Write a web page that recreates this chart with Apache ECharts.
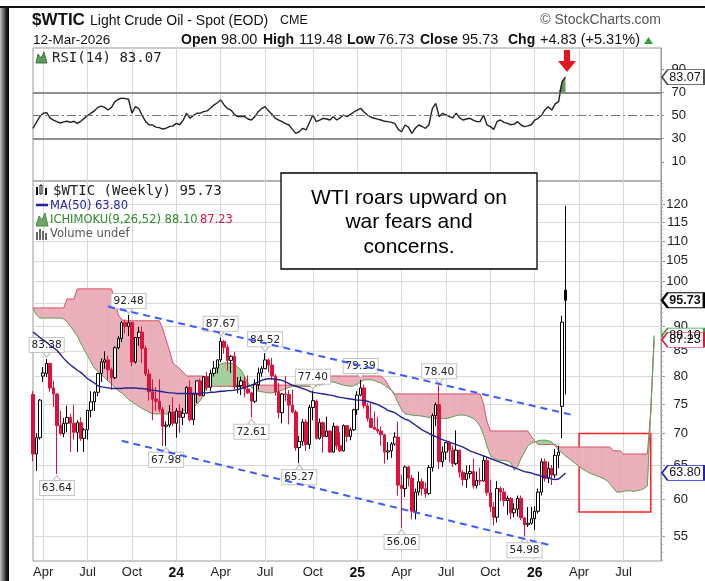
<!DOCTYPE html>
<html><head><meta charset="utf-8">
<script src="https://cdn.jsdelivr.net/npm/echarts@6/dist/echarts.min.js"></script>
<style>
html,body{margin:0;padding:0;background:#fff;}
#wrap{position:relative;width:705px;height:581px;overflow:hidden;background:#fff;}
#chart{position:absolute;left:0;top:0;width:705px;height:581px;}
#lframe{position:absolute;left:0;top:7px;width:9px;height:574px;background:linear-gradient(to right,#c4c4c4 0%,#777 35%,#222 70%,#000 100%);}
#tframe{position:absolute;left:0;top:6px;width:705px;height:2px;background:#111;}
</style></head>
<body><div id="wrap"><div id="chart"></div><div id="lframe"></div><div id="tframe"></div></div>
<script>
// ---------------- DATA ----------------
const startDate = '2023-03-13';          // first weekly category (Monday)
const nCategories = 185;                 // weeks shown incl. future cloud
const monthNames = ['Jan','Feb','Mar','Apr','May','Jun','Jul','Aug','Sep','Oct','Nov','Dec'];

const opens = [
76.7,66.7,69.3,80.1,80.6,82.5,77.9,76.8,71.3,70.0,
71.7,72.7,71.7,70.2,71.8,69.2,70.6,73.9,75.4,77.1,
80.6,82.8,83.2,81.3,79.8,85.6,87.5,90.8,90.0,90.8,
82.8,87.7,88.8,85.5,80.5,77.2,75.9,75.5,74.1,71.2,
71.4,73.6,71.7,73.8,72.7,73.4,78.0,72.3,76.8,79.2,
76.5,80.0,78.0,80.6,81.6,83.2,86.9,85.7,83.1,83.9,
78.1,78.3,79.2,77.7,77.0,75.5,78.5,80.7,81.5,83.2,
82.2,80.1,77.2,73.5,76.8,76.7,74.8,73.6,67.7,68.7,
71.9,68.2,74.4,75.5,69.2,71.8,69.5,70.4,67.0,71.2,
68.0,67.2,71.3,69.5,70.6,74.0,76.6,77.9,74.7,72.5,
71.0,70.7,70.4,69.8,67.0,67.2,68.3,69.4,62.0,61.5,
64.7,63.0,58.3,61.0,62.5,61.5,60.8,64.6,73.0,74.9,
65.5,67.0,68.5,67.3,65.2,67.3,63.9,62.8,63.7,64.0,
61.9,62.7,62.6,65.7,60.9,58.9,57.5,61.5,61.0,59.8,
60.1,58.1,58.6,60.1,57.4,56.5,56.7,57.3,58.3,61.0,
65.5,63.0,64.5,63.5,66.5,74.6,98.00];
const highs = [
77.3,70.0,75.9,81.8,83.38,82.7,79.2,76.9,73.8,72.6,
74.7,73.3,74.9,72.2,72.7,70.9,74.0,77.3,77.3,80.7,
83.5,84.9,84.0,81.7,85.9,88.0,91.2,91.5,92.48,91.0,
87.8,89.9,90.0,86.0,81.4,79.5,78.0,79.5,74.5,72.0,
74.8,76.2,74.3,75.0,74.3,78.2,79.3,77.0,79.3,79.6,
80.1,80.9,81.3,83.0,83.3,87.67,87.2,86.3,84.2,84.8,
79.9,80.0,80.0,80.2,77.2,79.5,81.7,82.0,84.52,83.5,
83.6,80.5,78.8,77.0,80.1,77.5,77.6,74.0,69.6,72.4,
72.4,74.9,77.40,75.8,72.5,72.0,72.8,70.5,71.8,71.3,
70.2,71.5,71.4,71.0,74.2,77.3,79.39,78.5,75.2,75.2,
73.7,72.8,71.2,69.9,68.6,68.6,70.2,72.0,63.5,64.9,
64.9,63.5,61.5,64.0,63.0,62.4,65.0,73.4,75.3,78.40,
67.9,68.6,68.7,68.0,70.5,67.4,64.2,64.9,65.0,66.0,
64.0,64.6,66.4,66.3,62.8,59.6,62.6,61.8,61.6,60.5,
60.3,59.4,60.5,60.5,57.5,58.9,58.9,59.0,61.5,66.0,
66.0,65.5,65.0,67.5,68.0,92.3,119.48];
const lows = [
65.6,64.1,69.0,79.0,79.9,77.2,74.5,63.64,69.7,69.4,
70.2,67.0,69.0,67.0,68.8,67.0,69.0,72.7,73.8,76.4,
79.0,81.5,79.3,77.6,79.5,85.3,86.8,88.6,88.0,82.0,
82.5,86.0,82.6,80.1,75.6,72.2,73.8,73.6,68.0,67.98,
71.0,71.2,69.3,70.1,71.4,73.3,72.0,71.4,75.2,76.4,
76.4,77.4,77.3,80.0,80.6,82.8,84.4,81.1,80.7,77.6,
76.9,76.6,76.2,76.8,72.61,75.2,77.6,80.0,81.4,80.8,
79.4,76.5,72.5,71.7,75.5,71.5,73.4,67.2,65.27,68.0,
67.2,67.5,72.2,69.0,69.0,66.9,69.4,66.9,66.9,67.4,
67.0,67.1,68.6,68.9,70.4,73.1,76.4,74.2,72.0,70.9,
70.6,70.0,68.0,65.2,65.8,66.1,68.0,60.5,56.06,60.3,
61.8,57.2,57.2,60.5,60.5,60.2,60.6,64.0,71.2,64.4,
64.7,65.8,65.4,64.7,65.0,63.1,61.9,61.6,63.0,61.5,
61.5,62.0,62.5,60.5,58.2,56.4,56.8,59.7,59.0,57.8,
57.2,57.5,57.6,57.1,54.98,56.2,56.5,55.8,58.0,60.5,
62.5,62.3,62.0,63.0,64.5,69.2,76.73];
const closes = [
66.7,69.3,75.7,80.7,82.5,77.9,76.8,71.3,70.0,71.7,
72.7,71.7,70.2,71.8,69.2,70.6,73.9,75.4,77.1,80.6,
82.8,83.2,81.3,79.8,85.6,87.5,90.8,90.0,90.8,82.8,
87.7,88.8,85.5,80.5,77.2,75.9,75.5,74.1,71.2,71.4,
73.6,71.7,73.8,72.7,73.4,78.0,72.3,76.8,79.2,76.5,
80.0,78.0,80.6,81.6,83.2,86.9,85.7,83.1,83.9,78.1,
78.3,79.2,77.7,77.0,75.5,78.5,80.7,81.5,83.2,82.2,
80.1,77.2,73.5,76.8,76.7,74.8,73.6,67.7,68.7,71.9,
68.2,74.4,75.6,69.2,71.8,69.5,70.4,67.0,71.2,68.0,
67.2,71.3,69.5,70.6,74.0,76.6,77.9,74.7,72.5,71.0,
70.7,70.4,69.8,67.0,67.2,68.3,69.4,62.0,61.5,64.7,
63.0,58.3,61.0,62.5,61.5,60.8,64.6,73.0,74.9,65.5,
67.0,68.5,67.3,65.2,67.3,63.9,62.8,63.7,64.0,61.9,
62.7,62.6,65.7,60.9,58.9,57.5,61.5,61.0,59.8,60.1,
58.1,58.6,60.1,57.4,56.5,56.7,57.3,58.3,61.0,65.5,
63.0,64.5,63.5,66.5,67.0,90.9,95.73];

const ma50 = [
88.8,88.3,87.7,87.2,86.7,86.1,85.6,85.1,84.3,83.5,
82.8,82.2,81.7,81.2,80.8,80.2,79.6,79.2,78.8,78.3,
78.1,78.0,77.9,77.8,77.8,77.8,77.8,77.9,77.9,77.9,
77.9,77.8,77.8,77.7,77.6,77.5,77.4,77.3,77.2,77.1,
77.0,77.0,76.9,76.9,76.9,76.9,76.9,76.9,76.9,76.9,
77.0,77.0,77.1,77.1,77.2,77.3,77.3,77.4,77.4,77.5,
77.6,77.8,78.0,78.2,78.4,78.7,79.0,79.3,79.5,79.6,
79.6,79.5,79.4,79.3,79.0,78.7,78.4,78.2,78.0,77.8,
77.6,77.3,77.1,77.0,76.9,76.8,76.7,76.6,76.5,76.3,
76.2,76.1,76.0,75.9,75.8,75.7,75.7,75.6,75.5,75.3,
75.1,74.9,74.6,74.3,73.9,73.7,73.5,73.1,72.7,72.4,
72.2,71.8,71.4,71.0,70.6,70.3,70.0,69.7,69.5,69.2,
69.0,68.8,68.6,68.4,68.2,68.0,67.8,67.5,67.2,67.0,
66.8,66.6,66.4,66.2,66.0,65.8,65.6,65.4,65.2,65.0,
64.8,64.6,64.4,64.2,64.0,63.9,63.8,63.6,63.5,63.3,
63.2,63.1,62.9,62.8,62.9,63.3,63.80];

const spanA = [
94.0,92.5,91.8,91.8,91.8,91.8,91.8,91.8,91.8,91.6,
91.0,90.0,89.0,88.0,86.5,85.2,84.0,82.8,81.6,81.0,
80.4,79.8,79.2,78.6,78.0,77.4,77.0,76.4,75.8,75.4,
75.0,74.6,74.2,73.9,73.6,73.3,73.3,73.3,73.3,73.3,
73.3,73.3,73.3,73.5,73.8,74.0,74.2,74.4,75.0,75.6,
76.8,78.5,80.2,81.2,82.0,82.4,82.6,82.6,82.6,82.3,
81.8,81.2,80.0,78.8,78.0,77.6,77.3,77.2,77.1,77.0,
77.0,77.1,77.3,77.5,77.8,78.0,78.2,78.2,78.3,78.5,
78.7,78.8,78.8,78.6,78.4,78.6,78.8,79.0,79.0,78.8,
78.6,78.4,78.3,78.2,78.3,78.6,79.0,79.4,79.4,79.4,
79.3,79.0,78.8,78.4,77.9,77.5,76.5,75.2,74.0,73.3,
73.2,73.1,73.0,73.0,72.9,72.8,72.7,72.6,72.5,72.5,
72.5,72.5,72.6,72.8,73.0,73.1,73.1,73.0,72.8,72.5,
72.0,71.2,69.8,68.0,66.5,66.0,65.8,65.7,65.7,65.6,
65.4,64.2,64.8,66.0,67.0,68.0,68.4,68.6,68.8,68.9,
68.9,68.8,68.6,68.0,67.3,66.9,66.4,66.0,65.6,65.2,
64.8,64.4,64.1,63.8,63.6,63.4,63.2,63.0,62.7,62.2,
61.6,61.0,61.0,61.1,61.2,61.2,61.1,61.2,61.3,61.5,
61.9,73.8,88.10];
const spanB = [
94.0,94.0,94.0,94.0,94.0,94.0,94.0,94.0,94.0,94.0,
96.0,96.0,96.0,98.3,98.3,98.3,98.3,98.3,98.3,98.3,
98.3,98.3,98.3,98.3,95.5,92.5,91.4,91.2,91.2,91.2,
91.2,91.2,91.2,91.2,91.2,91.2,91.2,91.2,89.5,87.2,
85.0,82.6,82.0,81.5,80.8,80.1,80.1,80.1,80.1,80.1,
80.1,78.2,78.2,78.2,78.2,78.2,78.2,78.2,78.2,78.2,
78.2,78.2,78.2,78.2,78.4,78.4,78.4,78.4,78.4,78.4,
78.4,78.4,78.4,78.4,78.4,78.4,78.4,78.4,78.2,78.2,
78.2,78.2,78.2,78.2,80.1,80.1,80.1,80.1,80.1,80.1,
80.1,80.1,80.1,80.1,80.1,80.1,80.1,80.1,80.1,80.1,
80.1,80.1,80.1,79.5,78.5,77.5,76.8,76.8,76.8,76.8,
76.8,76.8,76.8,76.8,76.8,76.8,76.8,76.8,76.8,76.8,
76.8,76.8,76.8,76.8,76.8,76.8,76.8,76.8,76.8,76.8,
76.8,76.8,75.0,72.0,70.4,70.4,70.4,70.4,70.4,70.4,
70.4,70.4,70.4,70.4,70.4,70.4,69.5,68.8,68.2,68.2,
68.2,68.2,68.2,68.2,67.8,67.8,67.8,67.8,67.8,67.8,
67.8,67.8,67.8,67.8,67.8,67.8,67.8,67.8,67.8,67.8,
67.2,67.2,67.2,66.7,66.7,66.7,66.7,66.7,66.7,66.7,
66.7,73.6,87.23];

const rsi14 = [
38.9,44,49,51.9,52.5,48,46,44.7,43.5,44.5,
45,44,45,43.2,45,47.5,50,52,54,57,
58,57,54.7,57,62,64,65,64.5,64,51.9,
57.6,56,50,44.7,42,41.8,40,39.5,38.3,39,
40.4,41,43.2,42,46,51.9,47.6,50,51.9,52,
53.3,54,56.2,59,61,63.4,59.1,56,54.7,51,
49,49,49,47,46.1,49,53.3,56,57.6,54,
51,47.6,46,44.7,43,41.8,38,34.6,36,38.9,
37.5,44,50.4,44.7,46,47.6,47,46.1,49,46.1,
48,50.4,49,51,53,54.7,56.2,53,50.4,48.5,
47.6,46.8,46.1,45,44.7,44,43.2,38,36,41.8,
40,34.6,38.9,41.8,40.5,38.9,41.8,56,60.5,49,
51.9,50.5,49,48,51.9,48,46.1,47,47.6,46,
44.7,44.7,50.4,42,40.4,38,45,46.1,44,43.2,
42,42.5,44.7,41.8,40.4,41,42,46.1,47.6,50,
55,57.6,54.7,60,61.9,79.2,83.07];

const priceTicks = [55,60,65,70,75,80,85,90,95,100,105,110,115,120];
const rsiTicks = [10,30,50,70,90];
const priceRange = [51.88, 126.65];
const rsiRange = [-6.5, 108.2];
const rsiLevels = [30, 50, 70];

const peakIdx = [4,28,55,68,82,96,119];
const troughIdx = [7,39,64,78,108,144];
const upperTrend = {idx:[22,158], val:[94.3,73.1]};
const lowerTrend = {idx:[26,151], val:[68.8,53.9]};
const boxIdx = [160,181];
const boxVal = [70.0,58.2];
const noteLines = ['WTI roars upward on','war fears and','concerns.'];
const dateText = '12-Mar-2026';

// ---------------- BUILD ----------------
const L = Math.log;
const categories = [];
const t0 = Date.parse(startDate + 'T00:00:00Z');
for (let i = 0; i < nCategories; i++) categories.push(new Date(t0 + i*7*86400000).toISOString().slice(0,10));
function isQuarter(i){ const d=categories[i]; const m=+d.slice(5,7), day=+d.slice(8,10); return (m===1||m===4||m===7||m===10) && day<=7; }

const RED = '#e0103c', BLK = '#000';
const candleData = closes.map((c,i)=>{
  const o = opens[i]; const prev = i>0 ? closes[i-1] : o;
  const col = c >= prev ? BLK : RED;
  const fill = c > o ? '#fff' : col;
  return {value:[L(o),L(c),L(lows[i]),L(highs[i])], itemStyle:{color:fill,color0:fill,borderColor:col,borderColor0:col,borderWidth:1}};
});

const lblStyle = {show:true, formatter:p=>p.value, fontSize:10.5, fontFamily:'DejaVu Sans', color:'#222', backgroundColor:'#fff', borderColor:'#c4c4c4', borderWidth:1, padding:[2,2,1,2]};
const peakPts = peakIdx.map(i=>({coord:[i, L(highs[i])], value:highs[i].toFixed(2), symbol:'path://M0,0L10,0L5,6Z', symbolSize:[8,5], symbolOffset:[0,-4], itemStyle:{color:'#fff',borderColor:'#bbb',borderWidth:1}, label:Object.assign({}, lblStyle, {position:'top', distance:0})}));
const troughPts = troughIdx.map(i=>({coord:[i, L(lows[i])], value:lows[i].toFixed(2), symbol:'path://M0,6L10,6L5,0Z', symbolSize:[8,5], symbolOffset:[0,4], itemStyle:{color:'#fff',borderColor:'#bbb',borderWidth:1}, label:Object.assign({}, lblStyle, {position:'bottom', distance:0})}));

const lastI = nCategories - 1;
function tag(y, text, border, bold, textColor){
  return {coord:[lastI, y], value:text, symbol:'path://M0,6L6,0L44,0L44,12L6,12Z', symbolSize:[42,15], symbolOffset:[22,0],
    itemStyle:{color:'#fff', borderColor:border, borderWidth: bold?1.7:1.2},
    label:{show:true, position:'inside', formatter:text, offset:[2,0], fontSize:12.5, fontFamily:'Liberation Sans', fontWeight: bold?'bold':'normal', color:textColor||'#111'}};
}
const nLast = closes.length - 1;
const mainTags = [
  tag(L(closes[nLast]), closes[nLast].toFixed(2), '#000', true),
  tag(L(spanA[spanA.length-1]), spanA[spanA.length-1].toFixed(2), '#3c9a3c', false),
  tag(L(spanB[spanB.length-1]), spanB[spanB.length-1].toFixed(2), '#dc143c', false),
  tag(L(ma50[ma50.length-1]), ma50[ma50.length-1].toFixed(2), '#2020c0', false, '#111')
];

const cloudData = [];
for (let i=0;i<spanA.length-1;i++) cloudData.push([i, L(spanA[i]), L(spanB[i]), L(spanA[i+1]), L(spanB[i+1])]);
const CR = '#eaafb8', CG = '#a2cf9b';
function renderCloud(params, api){
  const i=api.value(0), a0=api.value(1), b0=api.value(2), a1=api.value(3), b1=api.value(4);
  const pA0=api.coord([i,a0]), pB0=api.coord([i,b0]), pA1=api.coord([i+1,a1]), pB1=api.coord([i+1,b1]);
  const d0=a0-b0, d1=a1-b1;
  const mk=(pts,col)=>({type:'polygon', shape:{points:pts}, style:{fill:col, stroke:col, lineWidth:0.6}});
  const ch=[];
  if (d0*d1 >= 0) {
    if (d0===0 && d1===0) return {type:'group', children:[]};
    ch.push(mk([pA0,pA1,pB1,pB0], (d0+d1)>0?CG:CR));
  } else {
    const t=d0/(d0-d1);
    const pc=[pA0[0]+t*(pA1[0]-pA0[0]), pA0[1]+t*(pA1[1]-pA0[1])];
    ch.push(mk([pA0,pc,pB0], d0>0?CG:CR));
    ch.push(mk([pc,pA1,pB1], d1>0?CG:CR));
  }
  return {type:'group', children:ch};
}

const fillBase = rsi14.map((v,i)=> i>=150 ? 70 : '-');
const fillTop = rsi14.map((v,i)=> i>=150 ? Math.max(v-70,0) : '-');

const minorTicks = [];
for (let v=52; v<=126; v++) minorTicks.push(L(v));

const xCommon = {type:'category', data:categories, boundaryGap:false,
  axisLine:{show:false}, axisTick:{show:false},
  splitLine:{show:true, interval:(i)=>isQuarter(i), lineStyle:{color:'#d9d9d9', width:1}}};

function T(x,y,text,font,fill,align){ return {type:'text', x:x, y:y, z:100, silent:true, style:{text:text, font:font, fill:fill, align:align||'left', verticalAlign:'middle'}}; }

const chg = closes[nLast]-closes[nLast-1];
const pct = chg/closes[nLast-1]*100;
const B15 = 'bold 14px "Liberation Sans"', R15 = '14.5px "Liberation Sans"';
const graphics = [
  T(32,20,'$WTIC','bold 17px "Liberation Sans"','#111'),
  T(90,21,'Light Crude Oil - Spot (EOD)','14px "Liberation Sans"','#111'),
  T(280,21,'CME','12.5px "Liberation Sans"','#111'),
  T(661,20,'© StockCharts.com','14px "Liberation Sans"','#555','right'),
  T(33,40,dateText,'13.5px "Liberation Sans"','#111'),
  T(181,40,'Open',B15,'#111'), T(221,40,opens[nLast].toFixed(2),R15,'#111'),
  T(263,40,'High',B15,'#111'), T(299,40,highs[nLast].toFixed(2),R15,'#111'),
  T(347,40,'Low',B15,'#111'), T(378,40,lows[nLast].toFixed(2),R15,'#111'),
  T(420,40,'Close',B15,'#111'), T(462,40,closes[nLast].toFixed(2),R15,'#111'),
  T(508,40,'Chg',B15,'#111'), T(540,40,(chg>=0?'+':'')+chg.toFixed(2)+' ('+(pct>=0?'+':'')+pct.toFixed(2)+'%)',R15,'#111'),
  {type:'polygon', z:100, silent:true, shape:{points:[[644,44],[653,44],[648.5,37]]}, style:{fill:'#2e9e3e'}},
  // RSI legend
  {type:'polygon', z:100, silent:true, shape:{points:[[36,63],[38,54],[41,58],[44,52],[47,63]]}, style:{fill:'#5e9a58', stroke:'#2d5e2a', lineWidth:0.8}},
  T(52,58,'RSI(14) '+rsi14[nLast].toFixed(2),'14px "DejaVu Sans Mono"','#222'),
  // main legend
  {type:'rect', z:100, silent:true, shape:{x:36,y:187,width:2,height:8}, style:{fill:'#111'}},
  {type:'rect', z:100, silent:true, shape:{x:40,y:185,width:2,height:9}, style:{fill:'#fff', stroke:'#111', lineWidth:1}},
  {type:'rect', z:100, silent:true, shape:{x:45,y:188,width:2,height:7}, style:{fill:'#111'}},
  T(53,191,'$WTIC (Weekly) '+closes[nLast].toFixed(2),'14px "DejaVu Sans Mono"','#222'),
  {type:'line', z:100, silent:true, shape:{x1:36,y1:205,x2:48,y2:205}, style:{stroke:'#22229a', lineWidth:2.5}},
  T(50,206,'MA(50) '+ma50[nLast].toFixed(2),'11.5px "DejaVu Sans"','#2424a4'),
  {type:'polygon', z:100, silent:true, shape:{points:[[36,226],[39,216],[42,220],[45,213],[48,226]]}, style:{fill:'#6aa865', stroke:'#3c7a38', lineWidth:0.8}},
  T(50,220,'ICHIMOKU(9,26,52) '+spanA[spanA.length-1].toFixed(2),'11.5px "DejaVu Sans"','#2e8b2e'),
  T(200,220,spanB[spanB.length-1].toFixed(2),'11.5px "DejaVu Sans"','#dc143c'),
  {type:'rect', z:100, silent:true, shape:{x:36,y:232,width:2,height:8}, style:{fill:'#666'}},
  {type:'rect', z:100, silent:true, shape:{x:39,y:229,width:2,height:11}, style:{fill:'#666'}},
  {type:'rect', z:100, silent:true, shape:{x:42,y:231,width:2,height:9}, style:{fill:'#666'}},
  {type:'rect', z:100, silent:true, shape:{x:45,y:233,width:2,height:7}, style:{fill:'#666'}},
  T(50,234,'Volume undef','11.5px "DejaVu Sans"','#555'),
  // note box
  {type:'rect', z:100, silent:true, shape:{x:281,y:173,width:256,height:96}, style:{fill:'#fff', stroke:'#000', lineWidth:1.3}},
  T(409,198,noteLines[0],'21px "Liberation Sans"','#000','center'),
  T(409,222,noteLines[1],'21px "Liberation Sans"','#000','center'),
  T(409,247,noteLines[2],'21px "Liberation Sans"','#000','center'),
  // red arrow
  {type:'polygon', z:100, silent:true, shape:{points:[[564,50],[570,50],[570,61],[576,61],[567,72],[558,61],[564,61]]}, style:{fill:'#e8141c'}}
];

const option = {
  animation:false,
  backgroundColor:'#fff',
  grid:[
    {left:33, top:48, width:628, height:133, show:true, borderColor:'#999', borderWidth:1},
    {left:33, top:181, width:628, height:380, show:true, borderColor:'#999', borderWidth:1}
  ],
  xAxis:[
    Object.assign({gridIndex:0, axisLabel:{show:false}}, xCommon),
    Object.assign({gridIndex:1, axisLabel:{show:true, interval:(i)=>isQuarter(i), margin:5,
      fontSize:13, fontFamily:'Liberation Sans', color:'#222',
      formatter:(v)=>{ const m=+v.slice(5,7); return m===1 ? '{y|'+v.slice(2,4)+'}' : monthNames[m-1]; },
      rich:{y:{fontWeight:'bold', fontSize:14, fontFamily:'Liberation Sans', color:'#111'}}}}, xCommon)
  ],
  yAxis:[
    {gridIndex:0, type:'value', position:'right', min:rsiRange[0], max:rsiRange[1],
      axisLine:{show:true, lineStyle:{color:'#999'}},
      axisTick:{show:true, customValues:rsiTicks, length:3, lineStyle:{color:'#999'}},
      axisLabel:{customValues:rsiTicks, align:'right', margin:25, fontSize:13, fontFamily:'Liberation Sans', color:'#222'},
      splitLine:{show:false}},
    {gridIndex:1, type:'value', position:'right', min:L(priceRange[0]), max:L(priceRange[1]),
      axisLine:{show:true, lineStyle:{color:'#999'}},
      axisTick:{show:true, customValues:priceTicks.map(L), length:4, lineStyle:{color:'#999'}},
      axisLabel:{customValues:priceTicks.map(L), formatter:(v)=>String(Math.round(Math.exp(v))), align:'right', margin:27, fontSize:13, fontFamily:'Liberation Sans', color:'#222'},
      splitLine:{show:true, lineStyle:{color:'#d9d9d9'}}},
    {gridIndex:1, type:'value', position:'right', min:L(priceRange[0]), max:L(priceRange[1]),
      axisLine:{show:false}, axisLabel:{show:false}, splitLine:{show:false},
      axisTick:{show:true, customValues:minorTicks, length:2, lineStyle:{color:'#aaa'}}}
  ],
  series:[
    {name:'rsiBase', type:'line', xAxisIndex:0, yAxisIndex:0, data:fillBase, stack:'r', symbol:'none', lineStyle:{width:0, opacity:0}, silent:true, z:1},
    {name:'rsiFill', type:'line', xAxisIndex:0, yAxisIndex:0, data:fillTop, stack:'r', symbol:'none', lineStyle:{width:0, opacity:0}, areaStyle:{color:'#5f9a58', opacity:1}, silent:true, z:2},
    {name:'RSI', type:'line', xAxisIndex:0, yAxisIndex:0, data:rsi14, symbol:'none', lineStyle:{color:'#222', width:1.4}, z:3, silent:true,
      markLine:{silent:true, symbol:'none', label:{show:false},
        data:[{yAxis:rsiLevels[2], lineStyle:{color:'#6a6a6a', width:1.7, type:'solid'}},
              {yAxis:rsiLevels[0], lineStyle:{color:'#6a6a6a', width:1.7, type:'solid'}},
              {yAxis:rsiLevels[1], lineStyle:{color:'#777', width:1.2, type:[9,3,2,3]}}]},
      markPoint:{silent:true, data:[{coord:[lastI, rsi14[nLast]], value:rsi14[nLast].toFixed(2), symbol:'path://M0,6L6,0L44,0L44,12L6,12Z', symbolSize:[42,15], symbolOffset:[22,0],
        itemStyle:{color:'#fff', borderColor:'#444', borderWidth:1.1},
        label:{show:true, position:'inside', formatter:rsi14[nLast].toFixed(2), offset:[2,0], fontSize:12.5, fontFamily:'Liberation Sans', color:'#111'}}]}},
    {name:'cloud', type:'custom', xAxisIndex:1, yAxisIndex:1, renderItem:renderCloud, data:cloudData, encode:{x:0, y:1}, z:1, silent:true, clip:true},
    {name:'spanB', type:'line', xAxisIndex:1, yAxisIndex:1, data:spanB.map(L), symbol:'none', lineStyle:{color:'#d9566a', width:1}, z:2, silent:true},
    {name:'spanA', type:'line', xAxisIndex:1, yAxisIndex:1, data:spanA.map(L), symbol:'none', lineStyle:{color:'#5fa257', width:1}, z:2, silent:true},
    {name:'WTIC', type:'candlestick', xAxisIndex:1, yAxisIndex:1, data:candleData, barWidth:3, z:4, silent:true,
      markPoint:{silent:true, data:peakPts.concat(troughPts).concat(mainTags)}},
    {name:'MA50', type:'line', xAxisIndex:1, yAxisIndex:1, data:ma50.map(L), symbol:'none', lineStyle:{color:'#23238f', width:1.4}, z:5, silent:true},
    {name:'upper', type:'line', xAxisIndex:1, yAxisIndex:1, data:[[upperTrend.idx[0], L(upperTrend.val[0])],[upperTrend.idx[1], L(upperTrend.val[1])]], symbol:'none', lineStyle:{color:'#3b5bff', width:2, type:[7,5]}, z:6, silent:true,
      markArea:{silent:true, itemStyle:{color:'rgba(0,0,0,0)', borderColor:'#ff2020', borderWidth:1.5},
        data:[[{coord:[boxIdx[0], L(boxVal[0])]},{coord:[boxIdx[1], L(boxVal[1])]}]]}},
    {name:'lower', type:'line', xAxisIndex:1, yAxisIndex:1, data:[[lowerTrend.idx[0], L(lowerTrend.val[0])],[lowerTrend.idx[1], L(lowerTrend.val[1])]], symbol:'none', lineStyle:{color:'#3b5bff', width:2, type:[7,5]}, z:6, silent:true}
  ],
  graphic:graphics
};

const chart = echarts.init(document.getElementById('chart'), null, {renderer:'canvas'});
chart.setOption(option);
</script></body></html>
